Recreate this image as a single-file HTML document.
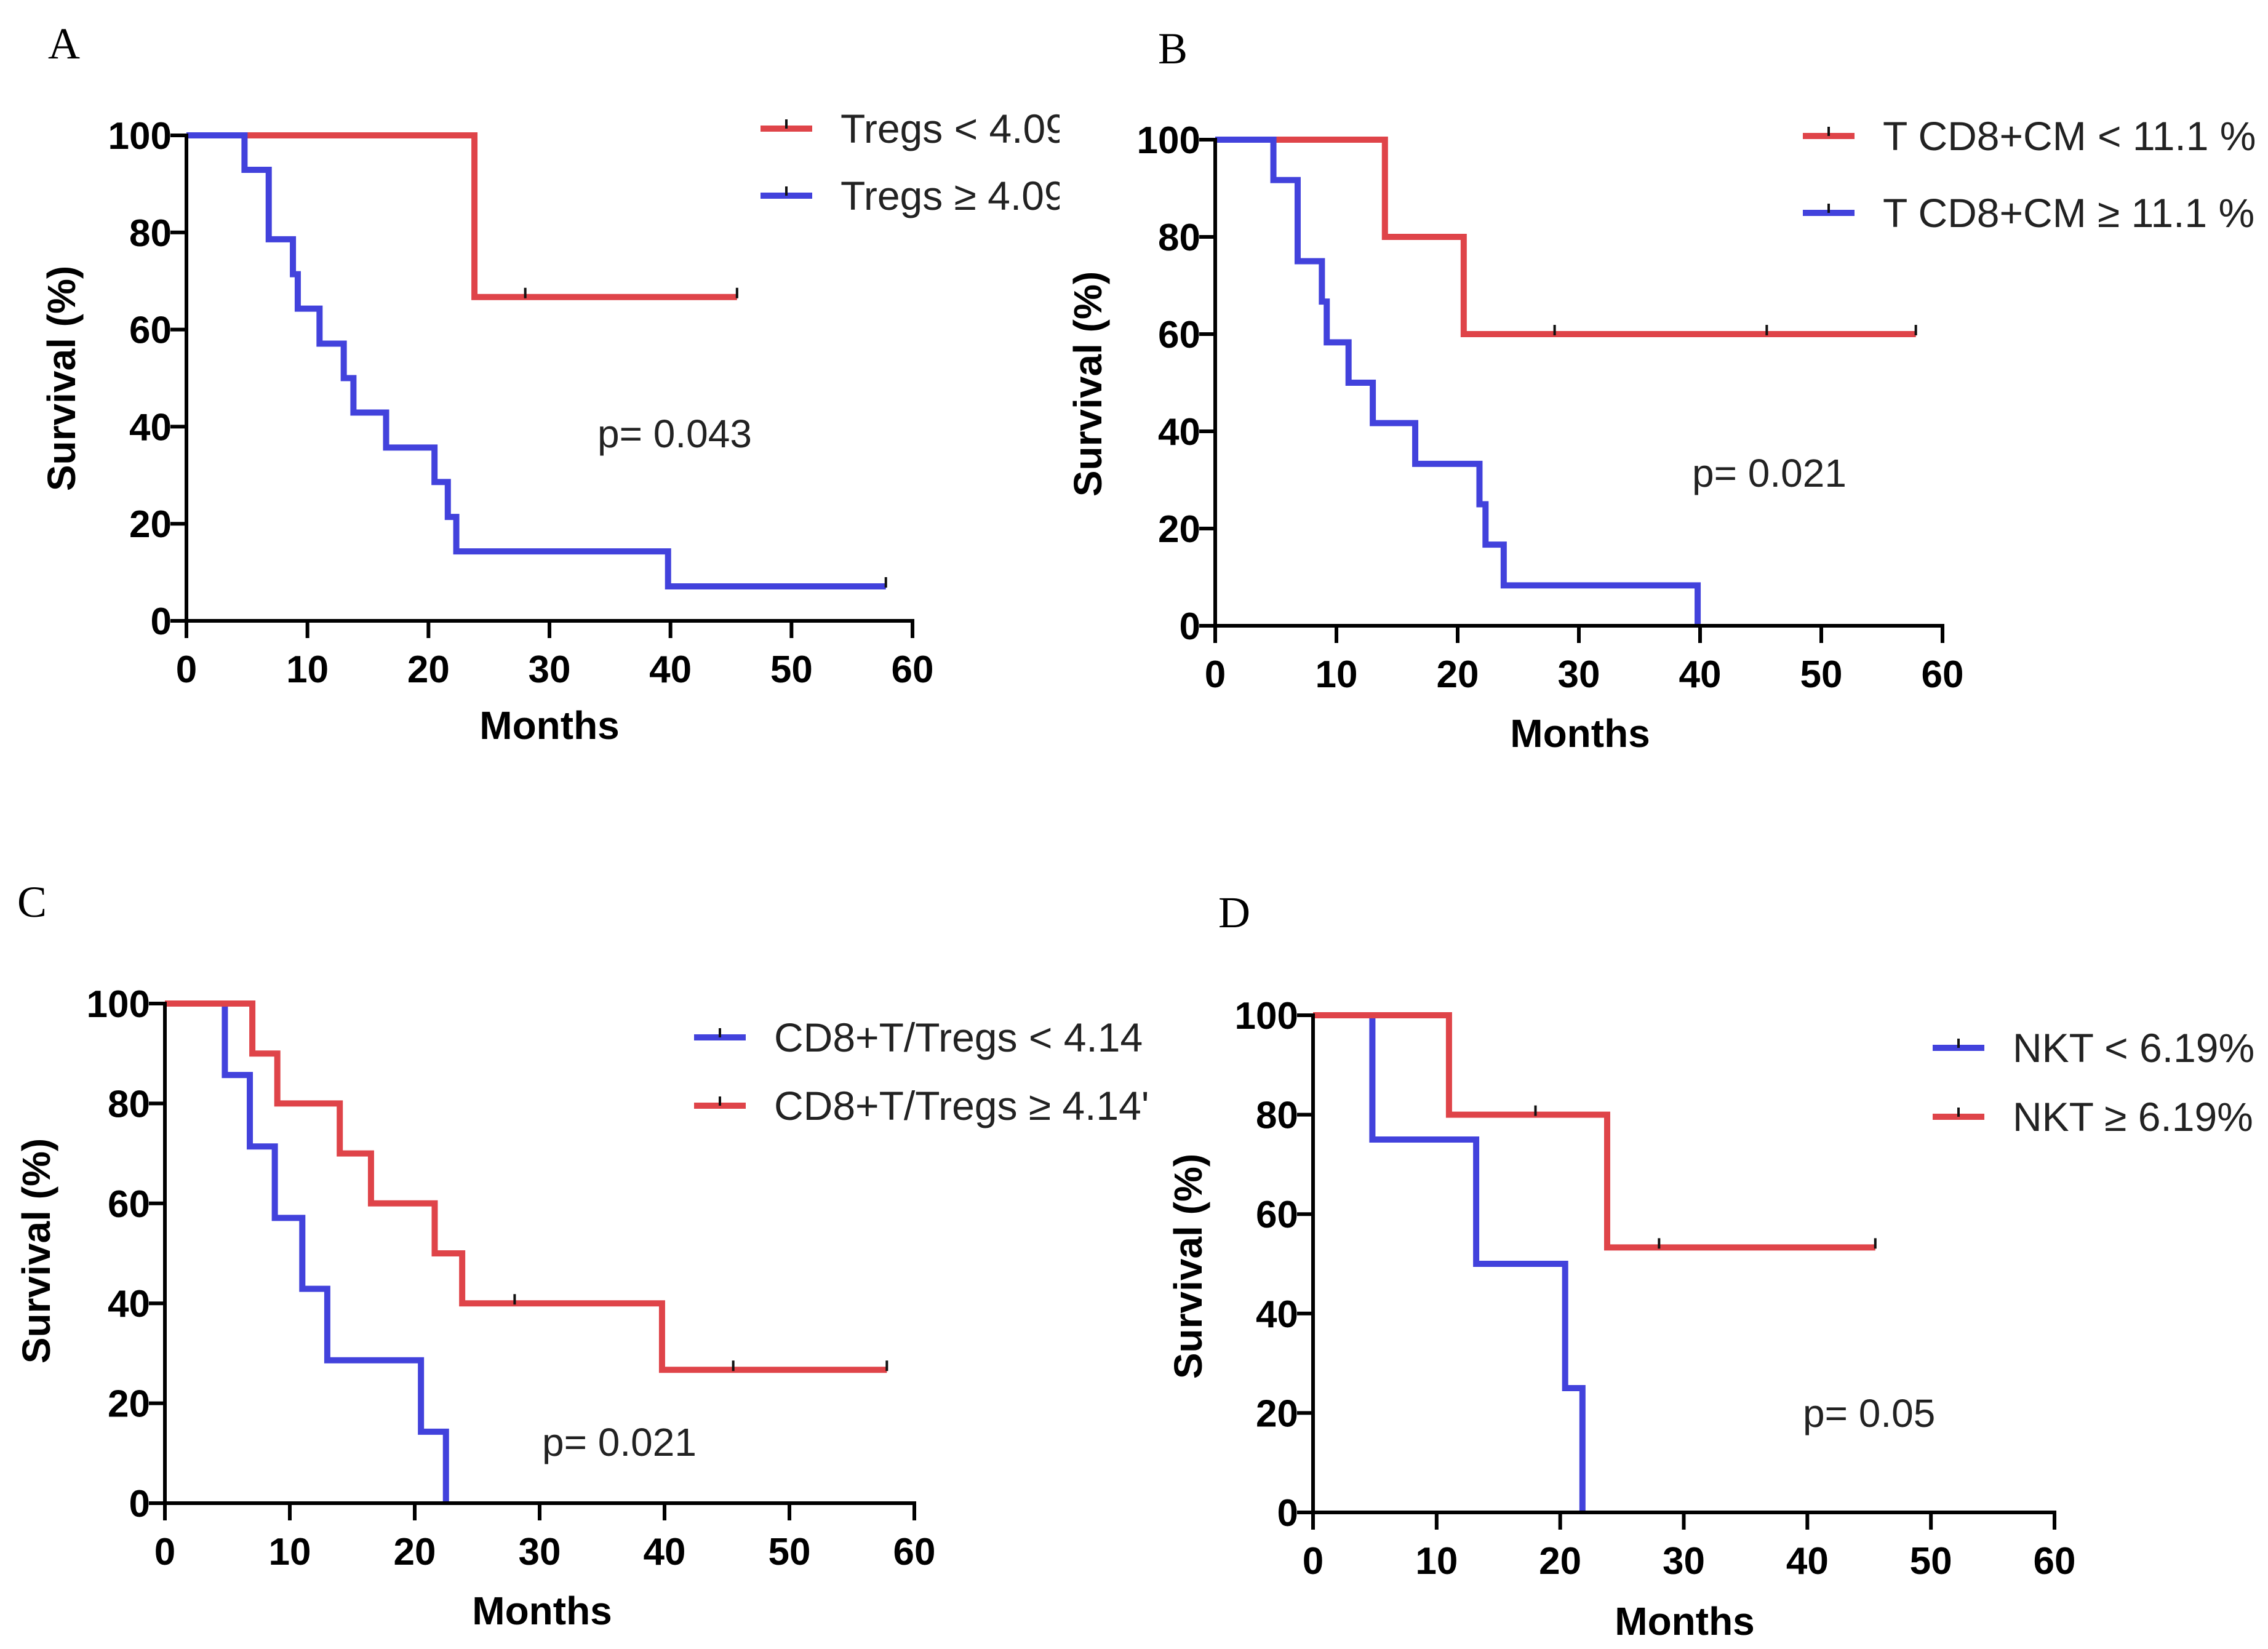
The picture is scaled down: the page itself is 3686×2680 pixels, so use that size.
<!DOCTYPE html>
<html><head><meta charset="utf-8"><style>
html,body{margin:0;padding:0;background:#fff;}
svg{display:block;}
text{font-family:"Liberation Sans",sans-serif;}
</style></head><body>
<svg id="fig" width="3686" height="2680" viewBox="0 0 3686 2680" xmlns="http://www.w3.org/2000/svg">
<defs>
<clipPath id="clipA"><rect x="1200" y="150" width="522" height="220"/></clipPath>
<clipPath id="clipC"><rect x="1100" y="1620" width="770" height="240"/></clipPath>
</defs>
</svg>
<script>
// Panel A
const aRedTimes=[23.8], aRedVals=[66.7], aRedEnd=45.5, aRedCens=[28,45.5];
const aBlueTimes=[4.8,6.8,8.8,9.2,11,13,13.8,16.5,20.5,21.6,22.3,39.8];
const aBlueVals=[92.9,78.6,71.4,64.3,57.1,50,42.9,35.7,28.6,21.4,14.3,7.1];
const aBlueEnd=57.8, aBlueCens=[57.8];
// Panel B
const bRedTimes=[14,20.5], bRedVals=[80,60], bRedEnd=57.8, bRedCens=[28,45.5,57.8];
const bBlueTimes=[4.8,6.8,6.8,8.8,9.2,11,13,16.5,21.8,22.3,23.8,39.8];
const bBlueVals=[91.7,83.3,75,66.7,58.3,50,41.7,33.3,25,16.7,8.3,0];
const bBlueEnd=39.8, bBlueCens=[];
// Panel C
const cBlueTimes=[4.8,6.8,8.8,11,13,20.5,22.5];
const cBlueVals=[85.7,71.4,57.1,42.9,28.6,14.3,0];
const cBlueEnd=22.5, cBlueCens=[];
const cRedTimes=[7,9,14,16.5,21.6,23.8,39.8];
const cRedVals=[90,80,70,60,50,40,26.7];
const cRedEnd=57.8, cRedCens=[28,45.5,57.8];
// Panel D
const dBlueTimes=[4.8,13.2,20.4,21.8], dBlueVals=[75,50,25,0], dBlueEnd=21.8, dBlueCens=[];
const dRedTimes=[11,23.8], dRedVals=[80,53.3], dRedEnd=45.5, dRedCens=[18,28,45.5];
const xTicks=[0,10,20,30,40,50,60];
const yTicks=[0,20,40,60,80,100];

const RED='#df4449', BLUE='#4242dc';
const svg=document.getElementById('fig');
const NS='http://www.w3.org/2000/svg';
function mk(tag,attrs,parent){const e=document.createElementNS(NS,tag);for(const k in attrs)e.setAttribute(k,attrs[k]);(parent||svg).appendChild(e);return e;}

function panel(p){
  const g=mk('g',{});
  
  
  const X=v=>p.x0+(p.x1-p.x0)*v/60, Y=v=>p.y0+(p.y1-p.y0)*(100-v)/100;
  const lt=mk('text',{x:p.lx,y:p.ly,'font-size':72,style:'font-family:"Liberation Serif",serif'},g);
  lt.textContent=p.id;
  
  
  p.series.forEach(s=>{
    let d='M'+X(0)+','+Y(100);let prev=100;
    s.times.forEach((t,i)=>{d+=' L'+X(t)+','+Y(prev)+' L'+X(t)+','+Y(s.vals[i]);prev=s.vals[i];});
    d+=' L'+X(s.end)+','+Y(prev);
    const path=mk('path',{d:d,fill:'none',stroke:s.color,'stroke-width':10},g);
    
    
    s.cens.forEach(c=>{
      let v=100;s.times.forEach((t,i)=>{if(t<=c)v=s.vals[i];});
      const tk=mk('line',{x1:X(c),x2:X(c),y1:Y(v)-15,y2:Y(v)+2,stroke:'#111','stroke-width':4},g);
      
      
    });
    const lg=mk('g',s.clip?{'clip-path':'url(#'+s.clip+')'}:{},g);
    
    
    mk('line',{x1:s.lgx,x2:s.lgx+84,y1:s.lgy,y2:s.lgy,stroke:s.color,'stroke-width':10},lg);
    mk('line',{x1:s.lgx+42,x2:s.lgx+42,y1:s.lgy-15,y2:s.lgy,stroke:'#111','stroke-width':4},lg);
    const tx=mk('text',{x:s.lgx+130,y:s.lgy+23,'font-size':66,fill:'#222'},lg);
    tx.textContent=s.label;
  });
  const ax=mk('g',{stroke:'#000','stroke-width':6,fill:'none'},g);
  
  
  mk('line',{x1:p.x0,x2:p.x0,y1:p.y0-3,y2:p.y1+3},ax);
  mk('line',{x1:p.x0-3,x2:p.x1+3,y1:p.y1,y2:p.y1},ax);
  xTicks.forEach(v=>{
    mk('line',{x1:X(v),x2:X(v),y1:p.y1,y2:p.y1+28},ax);
    const t=mk('text',{x:X(v),y:p.y1+100,'font-size':62,'font-weight':'bold','text-anchor':'middle'},g);
    t.textContent=v;
    
    
  });
  yTicks.forEach(v=>{
    mk('line',{x1:p.x0-26,x2:p.x0,y1:Y(v),y2:Y(v)},ax);
    const t=mk('text',{x:p.x0-24,y:Y(v)+22,'font-size':62,'font-weight':'bold','text-anchor':'end'},g);
    t.textContent=v;
    
    
  });
  const xt=mk('text',{x:p.mx,y:p.my,'font-size':64,'font-weight':'bold','text-anchor':'middle'},g);
  xt.textContent='Months';
  
  
  const yt=mk('text',{x:0,y:0,'font-size':64,'font-weight':'bold','text-anchor':'middle',transform:'translate('+(p.sx+22)+','+p.sy+') rotate(-90)'},g);
  yt.textContent='Survival (%)';
  
  
  const pv=mk('text',{x:p.px,y:p.py,'font-size':64,fill:'#222'},g);
  pv.textContent=p.pval;
  
  
}

panel({id:'A',x0:303,x1:1483,y0:220,y1:1009,lx:78,ly:95,mx:893,my:1201,sx:100,sy:615,px:971,py:727,pval:'p= 0.043',
 series:[
  {name:'tregs-low',color:RED,times:aRedTimes,vals:aRedVals,end:aRedEnd,cens:aRedCens,label:'Tregs < 4.09',lgx:1236,lgy:209,clip:'clipA'},
  {name:'tregs-high',color:BLUE,times:aBlueTimes,vals:aBlueVals,end:aBlueEnd,cens:aBlueCens,label:'Tregs \u2265 4.09',lgx:1236,lgy:318,clip:'clipA'}]});
panel({id:'B',x0:1975,x1:3157,y0:227,y1:1017,lx:1882,ly:103,mx:2568,my:1214,sx:1768,sy:624,px:2750,py:791,pval:'p= 0.021',
 series:[
  {name:'tcd8cm-low',color:RED,times:bRedTimes,vals:bRedVals,end:bRedEnd,cens:bRedCens,label:'T CD8+CM < 11.1 %',lgx:2930,lgy:221},
  {name:'tcd8cm-high',color:BLUE,times:bBlueTimes,vals:bBlueVals,end:bBlueEnd,cens:bBlueCens,label:'T CD8+CM \u2265 11.1 %',lgx:2930,lgy:346}]});
panel({id:'C',x0:268,x1:1486,y0:1631,y1:2443,lx:28,ly:1490,mx:881,my:2640,sx:59,sy:2033,px:881,py:2366,pval:'p= 0.021',
 series:[
  {name:'ratio-low',color:BLUE,times:cBlueTimes,vals:cBlueVals,end:cBlueEnd,cens:cBlueCens,label:'CD8+T/Tregs < 4.14',lgx:1128,lgy:1686,clip:'clipC'},
  {name:'ratio-high',color:RED,times:cRedTimes,vals:cRedVals,end:cRedEnd,cens:cRedCens,label:'CD8+T/Tregs \u2265 4.14\'',lgx:1128,lgy:1797,clip:'clipC'}]});
panel({id:'D',x0:2134,x1:3339,y0:1650,y1:2458,lx:1980,ly:1507,mx:2738,my:2657,sx:1931,sy:2058,px:2930,py:2319,pval:'p= 0.05',
 series:[
  {name:'nkt-low',color:BLUE,times:dBlueTimes,vals:dBlueVals,end:dBlueEnd,cens:dBlueCens,label:'NKT < 6.19%',lgx:3141,lgy:1703},
  {name:'nkt-high',color:RED,times:dRedTimes,vals:dRedVals,end:dRedEnd,cens:dRedCens,label:'NKT \u2265 6.19%',lgx:3141,lgy:1815}]});
</script>
</body></html>
